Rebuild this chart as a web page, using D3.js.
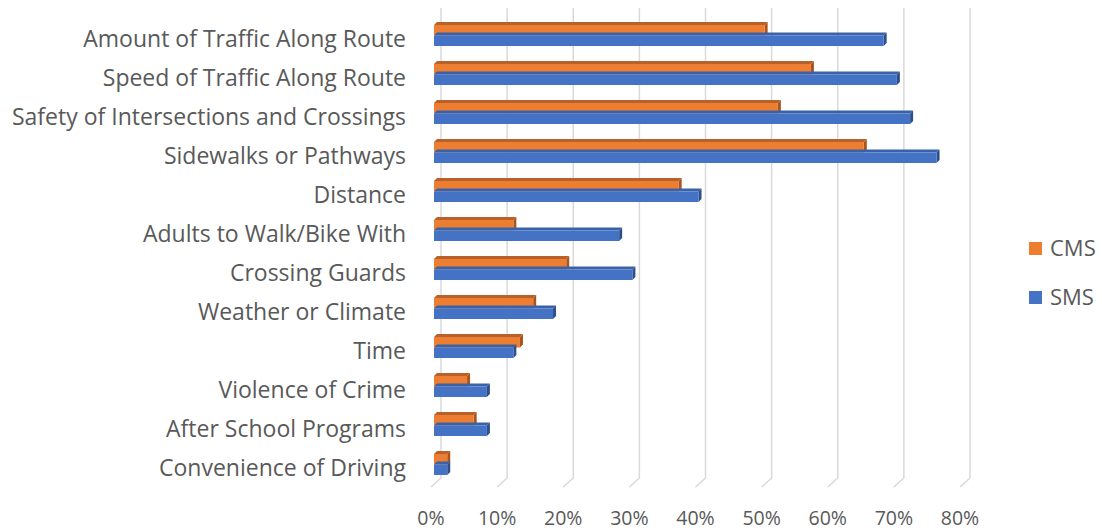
<!DOCTYPE html>
<html>
<head>
<meta charset="utf-8">
<script src="https://cdn.jsdelivr.net/npm/d3@7"></script>
<style>
  html, body { margin: 0; padding: 0; background: #fff; }
  svg text { font-family: "Open Sans", "Noto Sans", sans-serif; fill: #595959; }
</style>
</head>
<body>
<svg id="chart" width="1102" height="531"></svg>
<script>
var categories = [
  "Amount of Traffic Along Route",
  "Speed of Traffic Along Route",
  "Safety of Intersections and Crossings",
  "Sidewalks or Pathways",
  "Distance",
  "Adults to Walk/Bike With",
  "Crossing Guards",
  "Weather or Climate",
  "Time",
  "Violence of Crime",
  "After School Programs",
  "Convenience of Driving"
];
var cms = [0.50, 0.57, 0.52, 0.65, 0.37, 0.12, 0.20, 0.15, 0.13, 0.05, 0.06, 0.02];
var sms = [0.68, 0.70, 0.72, 0.76, 0.40, 0.28, 0.30, 0.18, 0.12, 0.08, 0.08, 0.02];
var ticks = [0, 0.1, 0.2, 0.3, 0.4, 0.5, 0.6, 0.7, 0.8];
var series = [
  { name: "CMS", values: cms, color: "#ED7D31", top: "#B8612A", side: "#A9541D" },
  { name: "SMS", values: sms, color: "#4472C4", top: "#3A62A8", side: "#2C4F8C" }
];

var svg = d3.select("#chart");

// back wall of the 3D plot, floor is shifted left/down
var backLeft = 441, backTop = 8, backBottom = 478;
var floorDx = -10, floorDy = 9;
var barDx = -7, depth = 3;

var x = d3.scaleLinear().domain([0, 0.8]).range([0, 529]);
var y = d3.scaleBand().domain(categories).range([19.5, 487.5]);

// gridlines with the floor bend
var grid = svg.append("g");
ticks.forEach(function (t) {
  var gx = backLeft + x(t);
  grid.append("path")
    .attr("d", "M" + gx + "," + backTop + "V" + backBottom + "l" + floorDx + "," + floorDy)
    .attr("fill", "none")
    .attr("stroke", "#d9d9d9")
    .attr("stroke-width", 1.5);
});

// x tick labels
svg.append("g").selectAll("text")
  .data(ticks)
  .join("text")
  .attr("x", function (t) { return backLeft + floorDx + x(t); })
  .attr("y", 525)
  .attr("text-anchor", "middle")
  .attr("font-size", "19.5px")
  .text(d3.format(".0%"));

// category labels
svg.append("g").selectAll("text")
  .data(categories)
  .join("text")
  .attr("x", 406)
  .attr("y", function (d) { return y(d) + y.bandwidth() / 2; })
  .attr("dy", "0.35em")
  .attr("text-anchor", "end")
  .attr("font-size", "23px")
  .text(function (d) { return d; });

// bars: front face + top + right side
var barH = 10.5;
var bars = svg.append("g");
categories.forEach(function (c, i) {
  series.forEach(function (s, k) {
    var v = s.values[i];
    var x0 = backLeft + barDx;
    var w = x(v);
    var y0 = y(c) + y.bandwidth() / 2 - 14 + k * barH;
    var g = bars.append("g");
    g.append("path")
      .attr("d", "M" + x0 + "," + y0 + "l" + depth + "," + (-depth) + "h" + w + "l" + (-depth) + "," + depth + "Z")
      .attr("fill", s.top);
    g.append("path")
      .attr("d", "M" + (x0 + w) + "," + y0 + "l" + depth + "," + (-depth) + "v" + barH + "l" + (-depth) + "," + depth + "Z")
      .attr("fill", s.side);
    g.append("rect")
      .attr("x", x0)
      .attr("y", y0)
      .attr("width", w)
      .attr("height", barH)
      .attr("fill", s.color);
  });
});

// legend
var legend = svg.append("g").selectAll("g")
  .data(series)
  .join("g")
  .attr("transform", function (d, i) { return "translate(1029," + (242 + i * 49) + ")"; });
legend.append("rect")
  .attr("width", 13)
  .attr("height", 13)
  .attr("fill", function (d) { return d.color; });
legend.append("text")
  .attr("x", 21)
  .attr("y", 6.5)
  .attr("dy", "0.35em")
  .attr("font-size", "22px")
  .text(function (d) { return d.name; });
</script>
</body>
</html>
